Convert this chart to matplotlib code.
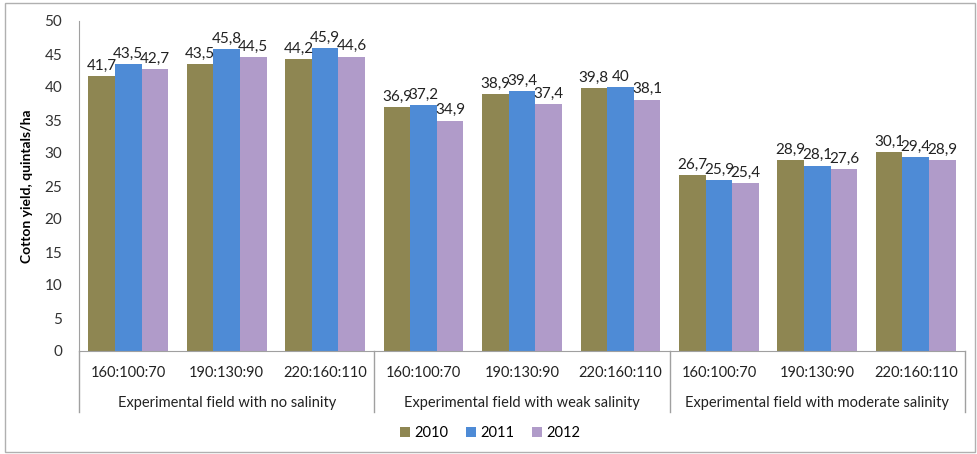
import numpy as np
import matplotlib.pyplot as plt
from matplotlib.patches import Rectangle
import matplotlib.transforms as mtransforms

plt.rcParams['font.family'] = ['Lato', 'DejaVu Sans']

# data
doses = ['160:100:70', '190:130:90', '220:160:110']
fields = ['Experimental field with no salinity',
          'Experimental field with weak salinity',
          'Experimental field with moderate salinity']
years = ['2010', '2011', '2012']
y2010 = [41.7, 43.5, 44.2, 36.9, 38.9, 39.8, 26.7, 28.9, 30.1]
y2011 = [43.5, 45.8, 45.9, 37.2, 39.4, 40.0, 25.9, 28.1, 29.4]
y2012 = [42.7, 44.5, 44.6, 34.9, 37.4, 38.1, 25.4, 27.6, 28.9]

colors = ['#8E8652', '#4E8BD6', '#B09BC9']
series = [y2010, y2011, y2012]

fig = plt.figure(figsize=(9.77, 4.54), dpi=100)
ax = fig.add_axes([79 / 977, 103 / 454, 886 / 977, 330 / 454])

x = np.arange(len(y2010))
w = 0.27
for i, (vals, c, lab) in enumerate(zip(series, colors, years)):
    pos = x + (i - 1) * w
    ax.bar(pos, vals, width=w, color=c, label=lab)
    for px, v in zip(pos, vals):
        txt = ('%g' % v).replace('.', ',')
        ax.text(px, v + 0.5, txt, ha='center', va='bottom', fontsize=11, color='#222222')

ax.set_xlim(-0.5, len(x) - 0.5)
ax.set_ylim(0, 50)
ax.set_yticks(np.arange(0, 51, 5))
ax.tick_params(axis='y', length=0, labelsize=11, labelcolor='#333333', pad=12)
ax.set_xticks([])
for s in ['top', 'right']:
    ax.spines[s].set_visible(False)
for s in ['left', 'bottom']:
    ax.spines[s].set_color('#A0A0A0')
ax.set_ylabel('Cotton yield, quintals/ha', fontsize=10, fontweight='bold', labelpad=8)

# two-level category axis
trans = mtransforms.blended_transform_factory(ax.transData, ax.transAxes)
for xi, lab in zip(x, doses * 3):
    ax.text(xi, -0.067, lab, transform=trans, ha='center', va='center', fontsize=10.5, color='#222222')
for g, lab in enumerate(fields):
    ax.text(g * 3 + 1, -0.158, lab, transform=trans, ha='center', va='center', fontsize=10.5, color='#222222')
for sx in [-0.5, 2.5, 5.5, 8.5]:
    ax.plot([sx, sx], [0, -0.185], transform=trans, color='#A0A0A0', lw=1, clip_on=False)

ax.legend(loc='center', bbox_to_anchor=(490 / 977, 21 / 454), bbox_transform=fig.transFigure,
          ncol=3, frameon=False, fontsize=10.5, handlelength=0.7, handleheight=0.7,
          columnspacing=1.2, handletextpad=0.3)

fig.patches.append(Rectangle((5 / 977, 2 / 454), 970 / 977, 449 / 454, transform=fig.transFigure,
                             fill=False, edgecolor='#B0B0B0', lw=1))

fig.savefig('out.png', dpi=100)
